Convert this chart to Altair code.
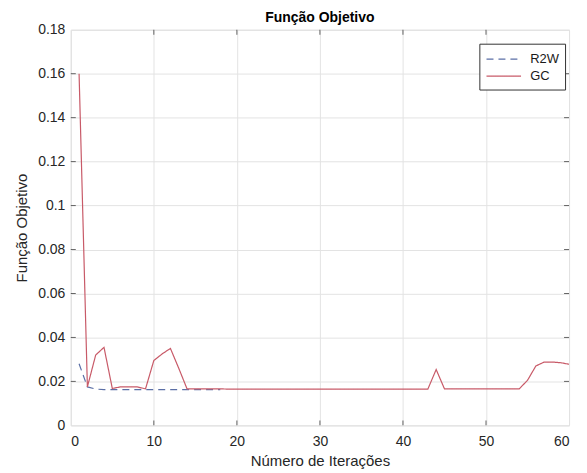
import altair as alt
import pandas as pd

gc_x = list(range(1, 61))
gc_y = [0.160, 0.0175, 0.032, 0.0355, 0.0168, 0.0175, 0.0175, 0.0175, 0.0166, 0.0295,
        0.0325, 0.0350, 0.0260, 0.0166, 0.0166, 0.0166, 0.0166, 0.0166, 0.0165, 0.0165,
        0.0165, 0.0165, 0.0165, 0.0165, 0.0165, 0.0165, 0.0165, 0.0165, 0.0165, 0.0165,
        0.0165, 0.0165, 0.0165, 0.0165, 0.0165, 0.0165, 0.0165, 0.0165, 0.0165, 0.0165,
        0.0165, 0.0165, 0.0165, 0.0254, 0.0166, 0.0166, 0.0166, 0.0166, 0.0166, 0.0166,
        0.0166, 0.0166, 0.0166, 0.0166, 0.0205, 0.0270, 0.0288, 0.0288, 0.0285, 0.0278]
r2w_x = list(range(1, 19))
r2w_y = [0.0280, 0.0175, 0.0165, 0.0163, 0.0163, 0.0163, 0.0163, 0.0163, 0.0163, 0.0163,
         0.0163, 0.0163, 0.0163, 0.0163, 0.0163, 0.0163, 0.0163, 0.0163]

x_ticks = [0, 10, 20, 30, 40, 50, 60]
y_ticks = [0, 0.02, 0.04, 0.06, 0.08, 0.1, 0.12, 0.14, 0.16, 0.18]

W, H = 500, 397
FONT = "Liberation Sans"

df = pd.concat([
    pd.DataFrame({"x": r2w_x, "y": r2w_y, "s": "R2W"}),
    pd.DataFrame({"x": gc_x, "y": gc_y, "s": "GC"}),
])

xs = alt.Scale(domain=[0, 60], nice=False)
ys = alt.Scale(domain=[0, 0.18], nice=False)

lines = alt.Chart(df).mark_line(strokeWidth=1.2).encode(
    x=alt.X("x:Q", scale=xs, title="Número de Iterações",
            axis=alt.Axis(values=x_ticks, grid=True, gridColor="#e3e3e3", domain=False,
                          ticks=False, labelFontSize=14, labelColor="#262626",
                          labelPadding=9, titleFontSize=15, titleFontWeight="normal",
                          titleColor="#262626", titlePadding=5, labelFont=FONT, titleFont=FONT)),
    y=alt.Y("y:Q", scale=ys, title="Função Objetivo",
            axis=alt.Axis(values=y_ticks, format="~g", grid=True, gridColor="#e3e3e3",
                          domain=False, ticks=False, labelFontSize=14, labelColor="#262626",
                          labelPadding=6, titleFontSize=15, titleFontWeight="normal",
                          titleColor="#262626", titlePadding=8, labelFont=FONT, titleFont=FONT)),
    color=alt.Color("s:N", scale=alt.Scale(domain=["R2W", "GC"], range=["#5b6fa6", "#c85a68"]),
                    legend=alt.Legend(title=None, orient="none", legendX=410, legendY=14,
                                      symbolType="M-2,0H2", symbolSize=300, symbolStrokeWidth=1.3,
                                      labelFontSize=13, labelFont=FONT, labelColor="#1a1a1a",
                                      fillColor="white", strokeColor="#333333", padding=6,
                                      rowPadding=0, labelOffset=17, symbolOffset=9)),
    strokeDash=alt.StrokeDash("s:N", scale=alt.Scale(domain=["R2W", "GC"], range=[[7, 5], [1, 0]]),
                              legend=None),
    order=alt.Order("x:Q"),
)

ytk = pd.DataFrame({"y": y_ticks[1:-1]})
xtk = pd.DataFrame({"x": x_ticks[1:-1]})
tick_l = alt.Chart(ytk).mark_tick(color="#262626", size=5, thickness=1, orient="horizontal").encode(
    y=alt.Y("y:Q", scale=ys), x=alt.value(2.5))
tick_r = alt.Chart(ytk).mark_tick(color="#262626", size=5, thickness=1, orient="horizontal").encode(
    y=alt.Y("y:Q", scale=ys), x=alt.value(W - 2.5))
tick_b = alt.Chart(xtk).mark_tick(color="#262626", size=5, thickness=1, orient="vertical").encode(
    x=alt.X("x:Q", scale=xs), y=alt.value(H - 2.5))
tick_t = alt.Chart(xtk).mark_tick(color="#262626", size=5, thickness=1, orient="vertical").encode(
    x=alt.X("x:Q", scale=xs), y=alt.value(2.5))

chart = alt.layer(lines, tick_l, tick_r, tick_b, tick_t).properties(
    width=W, height=H,
    title=alt.Title("Função Objetivo", fontSize=14, fontWeight="bold", font=FONT,
                    color="#000000", offset=-2),
    autosize=alt.AutoSizeParams(type="none"),
    padding={"left": 63, "top": 21, "right": 10, "bottom": 50},
).configure_view(stroke="#262626", strokeWidth=1).configure(background="white")

chart.save("out.html", embed_options={"renderer": "svg", "actions": False})
